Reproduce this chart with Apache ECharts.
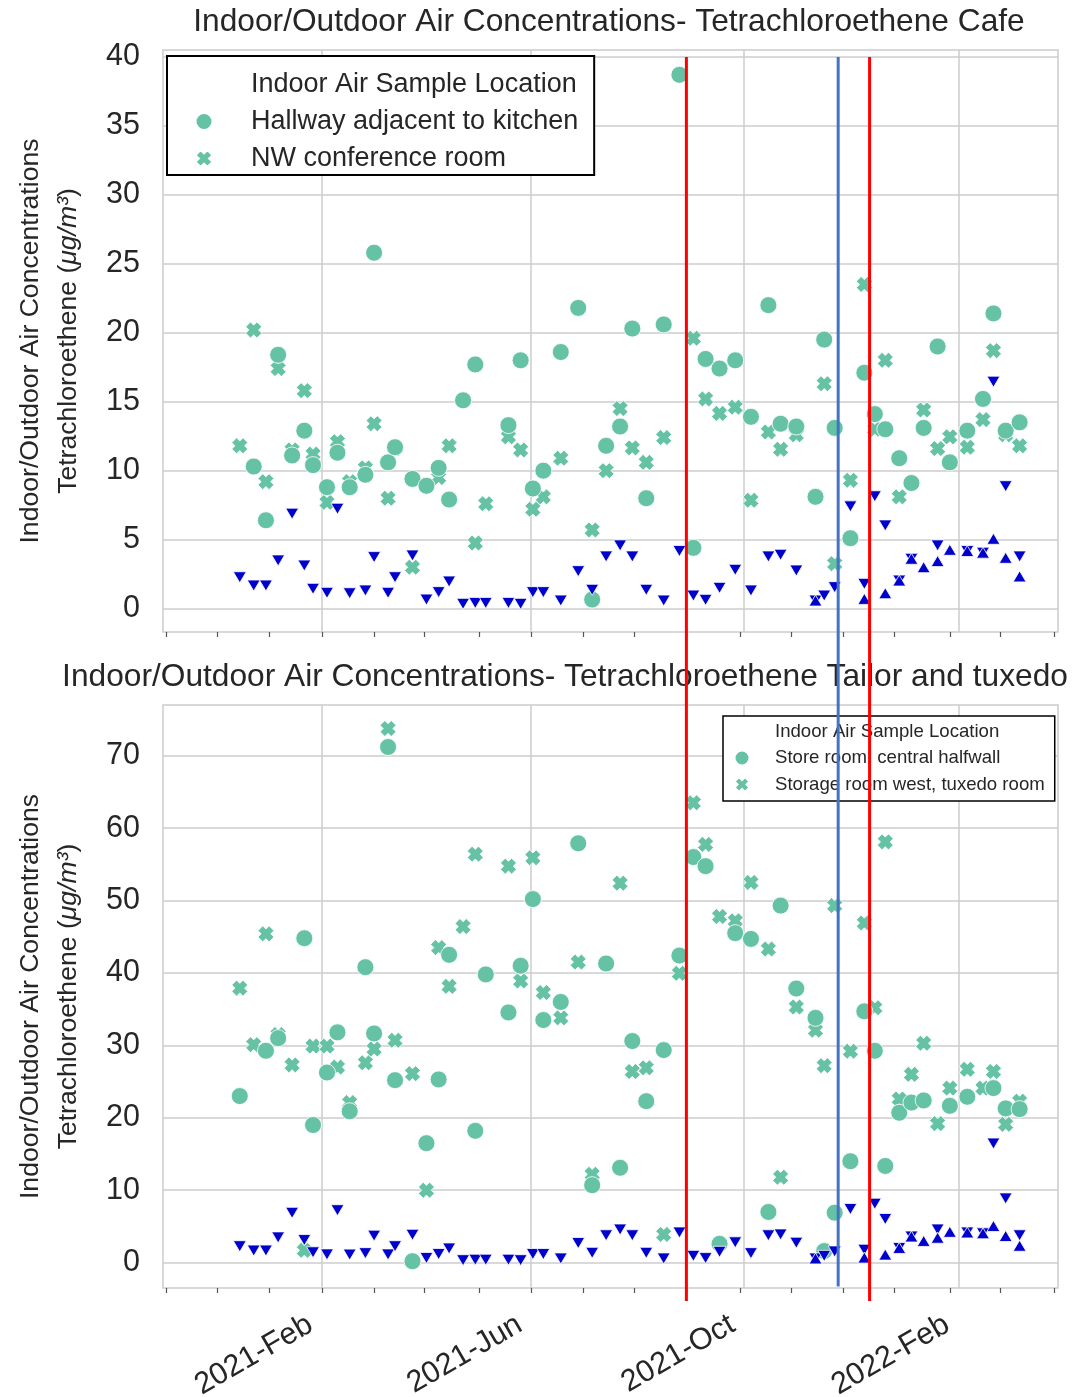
<!DOCTYPE html>
<html><head><meta charset="utf-8">
<script src="https://cdn.jsdelivr.net/npm/echarts@6/dist/echarts.min.js"></script>
<style>html,body{margin:0;padding:0;background:#fff}#c{width:1076px;height:1397px}</style>
</head><body><div id="c"></div>
<script>
const sampleDates = [
'2020-12-16','2020-12-24','2020-12-31','2021-01-07','2021-01-15','2021-01-22','2021-01-27','2021-02-04','2021-02-10','2021-02-17',
'2021-02-26','2021-03-03','2021-03-11','2021-03-15','2021-03-25','2021-04-02','2021-04-09','2021-04-15','2021-04-23','2021-04-30',
'2021-05-06','2021-05-19','2021-05-26','2021-06-02','2021-06-08','2021-06-18','2021-06-28','2021-07-06','2021-07-14','2021-07-22',
'2021-07-29','2021-08-06','2021-08-16','2021-08-25','2021-09-02','2021-09-09','2021-09-17','2021-09-26','2021-10-05','2021-10-15',
'2021-10-22','2021-10-31','2021-11-11','2021-11-16','2021-11-22','2021-12-01','2021-12-09','2021-12-15','2021-12-21','2021-12-29',
'2022-01-05','2022-01-12','2022-01-20','2022-01-27','2022-02-06','2022-02-15','2022-02-21','2022-02-28','2022-03-08'];

// Cafe: Hallway adjacent to kitchen (circles)
const cafeHallway = [null,10.3,6.4,18.4,11.1,12.9,10.4,8.8,11.3,8.8,
9.7,25.8,10.6,11.7,9.4,8.9,10.2,7.9,15.1,17.7,
null,13.3,18.0,8.7,10.0,18.6,21.8,0.65,11.8,13.2,
20.3,8.0,20.6,38.7,4.4,18.1,17.4,18.0,13.9,22.0,
13.4,13.2,8.1,19.5,13.1,5.1,17.1,14.1,13.0,10.9,
9.1,13.1,19.0,10.6,12.9,15.2,21.4,12.9,13.5];
// Cafe: NW conference room (X)
const cafeConference = [11.8,20.2,9.2,17.4,11.5,15.8,11.2,7.7,12.1,9.2,
10.2,13.4,8.0,11.6,3.0,null,9.5,11.8,null,4.75,
7.6,12.45,11.5,7.2,8.1,10.9,null,5.7,10.0,14.5,
11.65,10.6,12.4,null,19.6,15.2,14.15,14.6,7.85,12.8,
11.55,12.6,null,16.3,3.25,9.3,23.5,13.0,18.0,8.1,
null,14.4,11.6,12.45,11.7,13.7,18.7,12.6,11.8];
// Outdoor air (triangles down / up)
const outdoorDown = [2.27,1.67,1.67,3.49,6.88,3.12,1.43,1.14,7.24,1.11,
1.31,3.73,1.14,2.27,3.85,0.65,1.19,1.96,0.34,0.41,
0.41,0.41,0.34,1.19,1.19,0.58,2.71,1.36,3.78,4.58,
3.78,1.36,0.58,4.17,0.94,0.63,1.5,2.81,1.31,3.78,
3.9,2.76,0.58,0.94,1.55,7.41,1.79,8.14,6.03,2.03,
3.61,null,4.58,null,4.17,4.05,16.45,8.87,3.78];
const outdoorUp = [null,null,null,null,null,null,null,null,null,null,
null,null,null,null,null,null,null,null,null,null,
null,null,null,null,null,null,null,null,null,null,
null,null,null,null,null,null,null,null,null,null,
null,null,0.58,null,null,null,0.7,null,1.11,2.03,
3.61,3.0,3.44,4.26,4.17,4.05,5.06,3.68,2.33];
// Tailor and tuxedo: Store room, central halfwall (circles)
const tailorStore = [23.0,null,29.25,31.0,null,44.8,19.0,26.25,31.8,20.9,
40.8,31.65,71.2,25.2,0.2,16.5,25.3,42.5,null,18.2,
39.8,34.55,41.0,50.2,33.5,36.0,57.9,10.7,41.3,13.1,
30.6,22.3,29.35,42.4,56.0,54.75,2.6,45.5,44.7,7.0,
49.3,37.85,33.8,1.6,6.9,14.0,34.7,29.25,13.35,20.7,
22.1,22.4,null,21.65,22.9,null,24.1,21.3,21.2];
// Tailor and tuxedo: Storage room west, tuxedo room (X)
const tailorStorage = [37.9,30.1,45.4,31.5,27.3,1.7,29.9,29.9,27.0,22.1,
27.6,29.5,73.75,30.7,26.1,10.0,43.5,38.15,46.4,56.4,
null,54.75,38.9,55.9,37.3,33.8,41.5,12.2,null,52.4,
26.4,26.9,3.9,39.95,63.5,57.75,47.8,47.2,52.5,43.3,
11.8,35.3,32.1,27.2,49.3,29.2,46.9,35.2,58.1,22.6,
26.0,30.3,19.2,24.1,26.7,24.1,26.4,19.1,22.3];

const yTicksCafe = [0,5,10,15,20,25,30,35,40];
const yTicksTailor = [0,10,20,30,40,50,60,70];
const xMajorTicks = ['2021-02-01','2021-06-01','2021-10-01','2022-02-01'];
const xMajorLabels = ['2021-Feb','2021-Jun','2021-Oct','2022-Feb'];
const xMinorTicks = ['2020-11-04','2020-12-03','2021-01-02','2021-02-01','2021-03-03','2021-04-01','2021-05-02','2021-06-01','2021-07-01','2021-07-30','2021-08-29','2021-09-29','2021-10-28','2021-11-27','2021-12-26','2022-01-27','2022-02-25','2022-03-28'];
const xRange = ['2020-11-02','2022-03-30'];
const redLineDates = ['2021-08-29','2021-12-12'];
const blueLineDates = ['2021-11-24'];

const titles = ['Indoor/Outdoor Air Concentrations- Tetrachloroethene Cafe','Indoor/Outdoor Air Concentrations- Tetrachloroethene Tailor and tuxedo'];
const legendTitle = 'Indoor Air Sample Location';
const cafeNames = ['Hallway adjacent to kitchen','NW conference room'];
const tailorNames = ['Store room, central halfwall','Storage room west, tuxedo room'];

function ts(s){const p=s.split('-').map(Number);return Date.UTC(p[0],p[1]-1,p[2]);}
function pairs(vals){return sampleDates.map((d,i)=>[ts(d), vals[i]]).filter(p=>p[1]!==null);}

const FONT = '"Liberation Sans", Arial, sans-serif';
const TXT = '#262626';
const GREEN = '#66c2a5';
const BLUE = '#0000cd';
const GRIDC = '#cccccc';
const XPATH = 'path://M3,0L5,2L7,0L10,3L8,5L10,7L7,10L5,8L3,10L0,7L2,5L0,3Z';
const TICKFS = 30.5;

const chart = echarts.init(document.getElementById('c'), null, {renderer:'canvas'});
const xmin = ts(xRange[0]), xmax = ts(xRange[1]);
const majors = xMajorTicks.map(ts), minors = xMinorTicks.map(ts);

function xAxes(g, labels){
  return [{
    gridIndex:g, type:'value', min:xmin, max:xmax, scale:true,
    axisLine:{show:false},
    axisTick:{show:false, customValues:majors},
    axisLabel:{show:labels, customValues:majors, rotate:30, margin:28, padding:[0,13,0,0], fontSize:TICKFS, color:TXT, fontFamily:FONT,
      formatter:(v)=>{const i=majors.indexOf(v);return i>=0?xMajorLabels[i]:'';}},
    splitLine:{show:true, lineStyle:{color:GRIDC, width:1.5}}
  },{
    gridIndex:g, type:'value', min:xmin, max:xmax, scale:true, position:'bottom',
    axisLine:{show:false},
    axisTick:{show:true, customValues:minors, length:5, lineStyle:{color:'#555', width:1.2}},
    axisLabel:{show:false},
    splitLine:{show:false}
  }];
}
function yAxis(g, min, max, ticks){
  return {
    gridIndex:g, type:'value', min:min, max:max,
    axisLine:{show:false},
    axisTick:{show:false, customValues:ticks},
    axisLabel:{customValues:ticks, fontSize:TICKFS, color:TXT, fontFamily:FONT, margin:23},
    splitLine:{show:true, lineStyle:{color:GRIDC, width:1.5}},
    name:'Indoor/Outdoor Air Concentrations\n{n|Tetrachloroethene (}{i|μg/m³}{n|)}',
    nameLocation:'middle', nameRotate:90, nameGap:75,
    nameTextStyle:{fontSize:26.6, color:TXT, fontFamily:FONT, lineHeight:38,
      rich:{n:{fontSize:26.6, color:TXT, fontFamily:FONT, lineHeight:38},
            i:{fontSize:26.6, color:TXT, fontFamily:FONT, fontStyle:'italic', lineHeight:38}}}
  };
}
function scatter(name, xi, yi, vals, color, symbol, size, rotate){
  return {type:'scatter', name:name, xAxisIndex:xi, yAxisIndex:yi, data:pairs(vals),
    symbol:symbol, symbolSize:size, symbolRotate:rotate||0,
    itemStyle:{color:color, borderColor:'#fff', borderWidth:0.8, opacity:1},
    emphasis:{disabled:true}, z:2};
}

const option = {
  animation:false,
  backgroundColor:'#fff',
  grid:[
    {left:163, right:18, top:50, height:582, show:true, borderColor:GRIDC, borderWidth:1.5, outerBoundsMode:'none'},
    {left:163, right:18, top:705, height:583, show:true, borderColor:GRIDC, borderWidth:1.5, outerBoundsMode:'none'}
  ],
  xAxis:[...xAxes(0,false), ...xAxes(1,true)],
  yAxis:[yAxis(0,-1.7,40.5,yTicksCafe), yAxis(1,-3.5,77,yTicksTailor)],
  legend:[{
    orient:'vertical', left:167, top:56, selectedMode:false,
    padding:[15,16,3,10], borderColor:'#000', borderWidth:2, backgroundColor:'#fff',
    itemWidth:54, itemHeight:17, itemGap:10,
    data:[{name:legendTitle, icon:'none'},{name:cafeNames[0], icon:'circle'},{name:cafeNames[1], icon:XPATH}],
    formatter:(n)=>'{t|'+n+'}',
    textStyle:{fontSize:27, color:TXT, fontFamily:FONT, rich:{t:{fontSize:27, color:TXT, fontFamily:FONT, padding:[0,0,0,15]}}}
  },{
    orient:'vertical', left:723, top:716, selectedMode:false,
    padding:[6,10,7,6], borderColor:'#000', borderWidth:1.5, backgroundColor:'#fff',
    itemWidth:26, itemHeight:15, itemGap:7.5,
    data:[{name:legendTitle, icon:'none'},{name:tailorNames[0], icon:'circle'},{name:tailorNames[1], icon:XPATH}],
    formatter:(n)=>'{t|'+n+'}',
    textStyle:{fontSize:18.6, color:TXT, fontFamily:FONT, rich:{t:{fontSize:18.6, color:TXT, fontFamily:FONT, padding:[0,0,0,15]}}}
  }],
  series:[
    {type:'scatter', name:legendTitle, xAxisIndex:0, yAxisIndex:0, data:[], itemStyle:{color:'#fff'}},
    scatter(cafeNames[1],0,0,cafeConference,GREEN,XPATH,16),
    scatter(cafeNames[0],0,0,cafeHallway,GREEN,'circle',17),
    scatter('Outdoor A',0,0,outdoorDown,BLUE,'triangle',[13,11],180),
    scatter('Outdoor B',0,0,outdoorUp,BLUE,'triangle',[13,11],0),
    scatter(tailorNames[1],2,1,tailorStorage,GREEN,XPATH,16),
    scatter(tailorNames[0],2,1,tailorStore,GREEN,'circle',17),
    scatter('Outdoor A2',2,1,outdoorDown,BLUE,'triangle',[13,11],180),
    scatter('Outdoor B2',2,1,outdoorUp,BLUE,'triangle',[13,11],0)
  ]
};
chart.setOption(option);

const lineTopValue = 40;
const redBottomValue = -5.3, blueBottomValue = -3.3;
function annotate(){
  const els = [];
  els.push({type:'text', id:'t0', z:50, x:609, y:22, style:{text:titles[0], fontSize:31.7, fontFamily:FONT, fill:TXT, align:'center', verticalAlign:'middle'}});
  els.push({type:'text', id:'t1', z:50, x:565, y:677, style:{text:titles[1], fontSize:31.7, fontFamily:FONT, fill:TXT, align:'center', verticalAlign:'middle'}});
  const yTop = chart.convertToPixel({yAxisIndex:0}, lineTopValue);
  redLineDates.forEach((d,i)=>{
    const x = chart.convertToPixel({xAxisIndex:0}, ts(d));
    const yb = chart.convertToPixel({yAxisIndex:1}, redBottomValue);
    els.push({type:'line', id:'r'+i, z:100, shape:{x1:x,y1:yTop,x2:x,y2:yb}, style:{stroke:'#ff0000', lineWidth:3}});
  });
  blueLineDates.forEach((d,i)=>{
    const x = chart.convertToPixel({xAxisIndex:0}, ts(d));
    const yb = chart.convertToPixel({yAxisIndex:1}, blueBottomValue);
    els.push({type:'line', id:'b'+i, z:100, shape:{x1:x,y1:yTop,x2:x,y2:yb}, style:{stroke:'#4472c4', lineWidth:3}});
  });
  chart.setOption({graphic:els});
}
annotate();
</script></body></html>
